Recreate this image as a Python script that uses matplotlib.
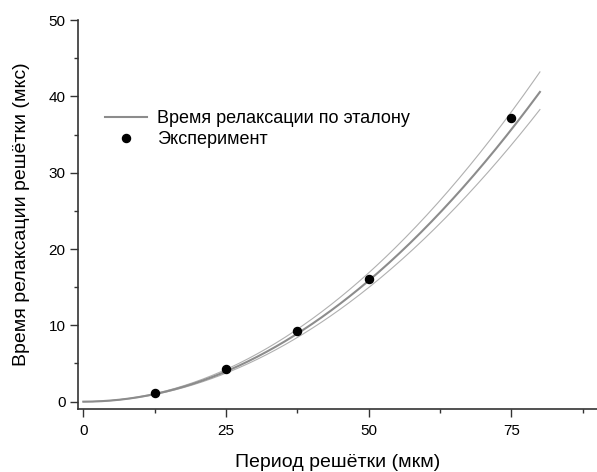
import numpy as np
import matplotlib.pyplot as plt
from matplotlib.ticker import MultipleLocator

plt.rcParams['font.family'] = ['Liberation Sans', 'DejaVu Sans']

# experiment points (period in um, relaxation time in us)
period = [12.5, 25, 37.5, 50, 75]
tau_exp = [1.2, 4.3, 9.3, 16.1, 37.2]

# reference curve tau = k * period^2 : nominal, upper, lower
k_ref = 0.00634
k_upper = 0.00675
k_lower = 0.00598
x_end = 80

fig = plt.figure(figsize=(5.97, 4.72), dpi=100)
ax = fig.add_axes([0.1307, 0.1335, 0.8693, 0.8241])

xs = np.linspace(0, x_end, 300)
ax.plot(xs, k_upper * xs**2, color='#b0b0b0', lw=0.8)
ax.plot(xs, k_lower * xs**2, color='#b0b0b0', lw=0.8)
ax.plot(xs, k_ref * xs**2, color='#8c8c8c', lw=1.5, label='Время релаксации по эталону')
ax.plot(period, tau_exp, 'o', color='black', ms=5.8, label='Эксперимент')

ax.set_xlim(-0.93, 90)
ax.set_ylim(-0.96, 50)
ax.xaxis.set_major_locator(MultipleLocator(25))
ax.xaxis.set_minor_locator(MultipleLocator(12.5))
ax.yaxis.set_major_locator(MultipleLocator(10))
ax.yaxis.set_minor_locator(MultipleLocator(5))
ax.tick_params(which='major', length=5.5, width=1, color='#333333', labelsize=11)
ax.tick_params(which='minor', length=3, width=1, color='#333333')
ax.tick_params(axis='x', which='major', pad=5)
ax.tick_params(axis='y', which='major', pad=3.5)

ax.spines['top'].set_visible(False)
ax.spines['right'].set_visible(False)
for s in ['left', 'bottom']:
    ax.spines[s].set_color('#333333')
    ax.spines[s].set_linewidth(1.2)

ax.set_xlabel('Период решётки (мкм)', fontsize=14, labelpad=12)
ax.set_ylabel('Время релаксации решётки (мкс)', fontsize=14, labelpad=13)

ax.legend(loc='upper left', bbox_to_anchor=(0.052, 0.768), frameon=False,
          fontsize=13, handlelength=2.3, handletextpad=0.6, borderpad=0,
          borderaxespad=0, labelspacing=0.2)

fig.savefig('out.png', dpi=100)
